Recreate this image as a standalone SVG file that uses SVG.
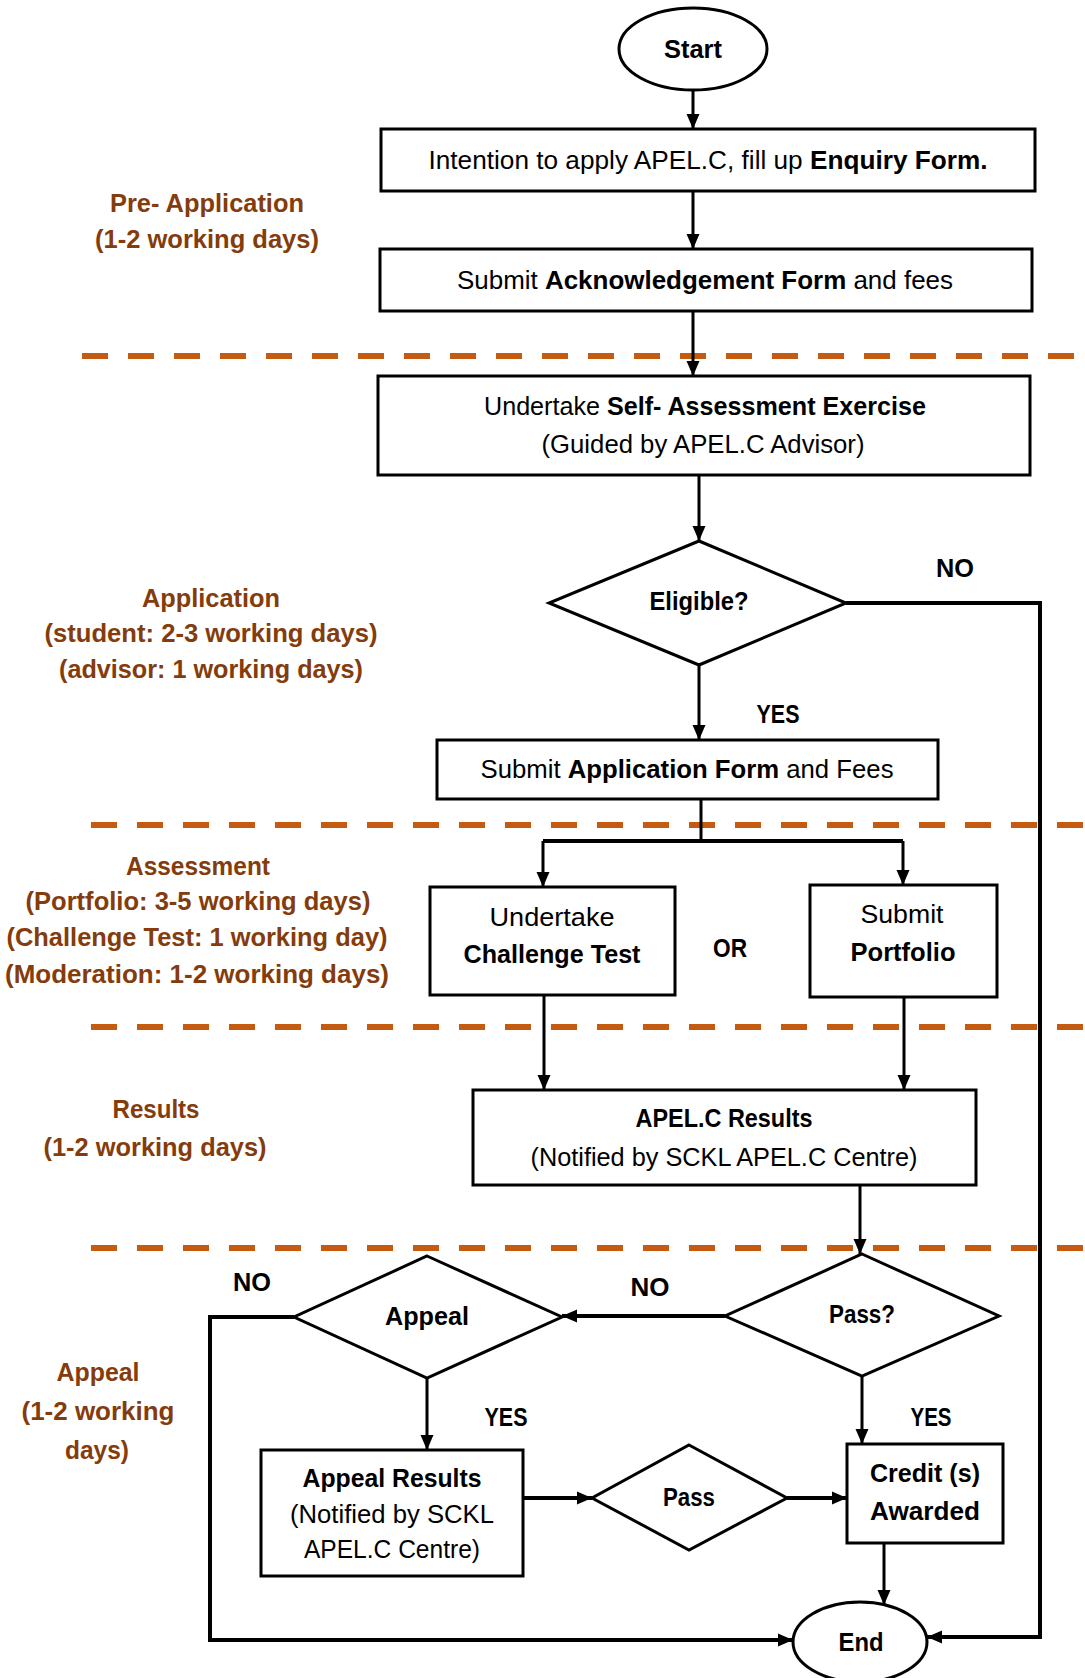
<svg xmlns="http://www.w3.org/2000/svg" width="1085" height="1678" viewBox="0 0 1085 1678">
<style>
.bg{fill:#fff}
.box{fill:#fff;stroke:#000;stroke-width:3}
.t{font-family:"Liberation Sans",Arial,sans-serif;font-size:26px;fill:#000;text-anchor:middle}
.b{font-weight:bold}
.lbl{font-family:"Liberation Sans",Arial,sans-serif;font-size:26px;font-weight:bold;fill:#843C0C;text-anchor:middle}
.dash{stroke:#C55A11;stroke-width:6;stroke-dasharray:26 20;fill:none}
.con{stroke:#000;stroke-width:3;fill:none}
.thick{stroke-width:4}
</style>
<defs>
<marker id="arr" markerWidth="15" markerHeight="14" refX="15" refY="7" orient="auto" markerUnits="userSpaceOnUse">
<path d="M0,0.5 L15,7 L0,13.5 Z" fill="#000"/>
</marker>
</defs>
<rect class="bg" x="0" y="0" width="1085" height="1678"/>

<g id="phase-dividers">
<line class="dash" x1="82" y1="356" x2="1085" y2="356"/>
<line class="dash" x1="91" y1="825" x2="1085" y2="825"/>
<line class="dash" x1="91" y1="1027" x2="1085" y2="1027"/>
<line class="dash" x1="91" y1="1248" x2="1085" y2="1248"/>
</g>

<g id="phase-labels">
<text class="lbl" x="207" y="212" textLength="194" lengthAdjust="spacingAndGlyphs">Pre- Application</text>
<text class="lbl" x="207" y="248" textLength="224" lengthAdjust="spacingAndGlyphs">(1-2 working days)</text>
<text class="lbl" x="211" y="607" textLength="138" lengthAdjust="spacingAndGlyphs">Application</text>
<text class="lbl" x="211" y="642" textLength="333" lengthAdjust="spacingAndGlyphs">(student: 2-3 working days)</text>
<text class="lbl" x="211" y="678" textLength="304" lengthAdjust="spacingAndGlyphs">(advisor: 1 working days)</text>
<text class="lbl" x="198" y="875" textLength="144" lengthAdjust="spacingAndGlyphs">Assessment</text>
<text class="lbl" x="198" y="910" textLength="345" lengthAdjust="spacingAndGlyphs">(Portfolio: 3-5 working days)</text>
<text class="lbl" x="197" y="946" textLength="381" lengthAdjust="spacingAndGlyphs">(Challenge Test: 1 working day)</text>
<text class="lbl" x="197" y="983" textLength="384" lengthAdjust="spacingAndGlyphs">(Moderation: 1-2 working days)</text>
<text class="lbl" x="156" y="1118" textLength="87" lengthAdjust="spacingAndGlyphs">Results</text>
<text class="lbl" x="155" y="1156" textLength="223" lengthAdjust="spacingAndGlyphs">(1-2 working days)</text>
<text class="lbl" x="98" y="1381" textLength="83" lengthAdjust="spacingAndGlyphs">Appeal</text>
<text class="lbl" x="98" y="1420" textLength="153" lengthAdjust="spacingAndGlyphs">(1-2 working</text>
<text class="lbl" x="97" y="1459" textLength="64" lengthAdjust="spacingAndGlyphs">days)</text>
</g>

<g id="connectors">
<line class="con" x1="693" y1="90" x2="693" y2="129" marker-end="url(#arr)"/>
<line class="con" x1="693" y1="191" x2="693" y2="249" marker-end="url(#arr)"/>
<line class="con" x1="693" y1="311" x2="693" y2="376" marker-end="url(#arr)"/>
<line class="con" x1="699" y1="475" x2="699" y2="541" marker-end="url(#arr)"/>
<line class="con" x1="699" y1="665" x2="699" y2="740" marker-end="url(#arr)"/>
<polyline class="con" points="701,799 701,841"/>
<polyline class="con thick" points="543,841 903,841"/>
<line class="con" x1="543" y1="841" x2="543" y2="887" marker-end="url(#arr)"/>
<line class="con" x1="903" y1="841" x2="903" y2="885" marker-end="url(#arr)"/>
<line class="con" x1="544" y1="995" x2="544" y2="1090" marker-end="url(#arr)"/>
<line class="con" x1="904" y1="997" x2="904" y2="1090" marker-end="url(#arr)"/>
<line class="con" x1="860" y1="1185" x2="860" y2="1254" marker-end="url(#arr)"/>
<line class="con thick" x1="725" y1="1316" x2="562" y2="1316" marker-end="url(#arr)"/>
<polyline class="con thick" points="294,1317 210,1317 210,1640 793,1640" marker-end="url(#arr)"/>
<line class="con" x1="427" y1="1378" x2="427" y2="1450" marker-end="url(#arr)"/>
<line class="con thick" x1="523" y1="1498" x2="592" y2="1498" marker-end="url(#arr)"/>
<line class="con thick" x1="787" y1="1498" x2="847" y2="1498" marker-end="url(#arr)"/>
<line class="con" x1="862" y1="1376" x2="862" y2="1444" marker-end="url(#arr)"/>
<line class="con" x1="884" y1="1543" x2="884" y2="1605" marker-end="url(#arr)"/>
<polyline class="con thick" points="846,603 1040,603 1040,1637 927,1637" marker-end="url(#arr)"/>
<text class="t b" x="955" y="577" textLength="38" lengthAdjust="spacingAndGlyphs">NO</text>
<text class="t b" x="778" y="723" textLength="43" lengthAdjust="spacingAndGlyphs">YES</text>
<text class="t b" x="730" y="957" textLength="34" lengthAdjust="spacingAndGlyphs">OR</text>
<text class="t b" x="252" y="1291" textLength="38" lengthAdjust="spacingAndGlyphs">NO</text>
<text class="t b" x="650" y="1296" textLength="39" lengthAdjust="spacingAndGlyphs">NO</text>
<text class="t b" x="506" y="1426" textLength="43" lengthAdjust="spacingAndGlyphs">YES</text>
<text class="t b" x="931" y="1426" textLength="41" lengthAdjust="spacingAndGlyphs">YES</text>
</g>

<g id="start">
<ellipse class="box" cx="693" cy="49" rx="74" ry="41"/>
<text class="t b" x="693" y="58" textLength="58" lengthAdjust="spacingAndGlyphs">Start</text>
</g>
<g id="enquiry">
<rect class="box" x="381" y="129" width="654" height="62"/>
<text class="t" x="708" y="169" textLength="559" lengthAdjust="spacingAndGlyphs">Intention to apply APEL.C, fill up <tspan class="b">Enquiry Form.</tspan></text>
</g>
<g id="acknowledgement">
<rect class="box" x="380" y="249" width="652" height="62"/>
<text class="t" x="705" y="289" textLength="496" lengthAdjust="spacingAndGlyphs">Submit <tspan class="b">Acknowledgement Form</tspan> and fees</text>
</g>
<g id="self-assessment">
<rect class="box" x="378" y="376" width="652" height="99"/>
<text class="t" x="705" y="415" textLength="442" lengthAdjust="spacingAndGlyphs">Undertake <tspan class="b">Self- Assessment Exercise</tspan></text>
<text class="t" x="703" y="453" textLength="323" lengthAdjust="spacingAndGlyphs">(Guided by APEL.C Advisor)</text>
</g>
<g id="eligible">
<polygon class="box" points="699,541 846,603 699,665 549,603"/>
<text class="t b" x="699" y="610" textLength="99" lengthAdjust="spacingAndGlyphs">Eligible?</text>
</g>
<g id="application-form">
<rect class="box" x="437" y="740" width="501" height="59"/>
<text class="t" x="687" y="778" textLength="413" lengthAdjust="spacingAndGlyphs">Submit <tspan class="b">Application Form</tspan> and Fees</text>
</g>
<g id="challenge-test">
<rect class="box" x="430" y="887" width="245" height="108"/>
<text class="t" x="552" y="926" textLength="125" lengthAdjust="spacingAndGlyphs">Undertake</text>
<text class="t b" x="552" y="963" textLength="177" lengthAdjust="spacingAndGlyphs">Challenge Test</text>
</g>
<g id="portfolio">
<rect class="box" x="810" y="885" width="187" height="112"/>
<text class="t" x="902" y="923" textLength="83" lengthAdjust="spacingAndGlyphs">Submit</text>
<text class="t b" x="903" y="961" textLength="105" lengthAdjust="spacingAndGlyphs">Portfolio</text>
</g>
<g id="results">
<rect class="box" x="473" y="1090" width="503" height="95"/>
<text class="t b" x="724" y="1127" textLength="177" lengthAdjust="spacingAndGlyphs">APEL.C Results</text>
<text class="t" x="724" y="1166" textLength="387" lengthAdjust="spacingAndGlyphs">(Notified by SCKL APEL.C Centre)</text>
</g>
<g id="pass-q">
<polygon class="box" points="862,1254 999,1316 862,1376 725,1316"/>
<text class="t b" x="862" y="1323" textLength="66" lengthAdjust="spacingAndGlyphs">Pass?</text>
</g>
<g id="appeal">
<polygon class="box" points="427,1256 562,1317 427,1378 294,1317"/>
<text class="t b" x="427" y="1325" textLength="84" lengthAdjust="spacingAndGlyphs">Appeal</text>
</g>
<g id="appeal-results">
<rect class="box" x="261" y="1450" width="262" height="126"/>
<text class="t b" x="392" y="1487" textLength="179" lengthAdjust="spacingAndGlyphs">Appeal Results</text>
<text class="t" x="392" y="1523" textLength="204" lengthAdjust="spacingAndGlyphs">(Notified by SCKL</text>
<text class="t" x="392" y="1558" textLength="176" lengthAdjust="spacingAndGlyphs">APEL.C Centre)</text>
</g>
<g id="pass">
<polygon class="box" points="689,1445 787,1498 689,1550 592,1498"/>
<text class="t b" x="689" y="1506" textLength="52" lengthAdjust="spacingAndGlyphs">Pass</text>
</g>
<g id="credits">
<rect class="box" x="847" y="1444" width="156" height="99"/>
<text class="t b" x="925" y="1482" textLength="110" lengthAdjust="spacingAndGlyphs">Credit (s)</text>
<text class="t b" x="925" y="1520" textLength="110" lengthAdjust="spacingAndGlyphs">Awarded</text>
</g>
<g id="end">
<ellipse class="box" cx="860" cy="1642" rx="67" ry="40"/>
<text class="t b" x="861" y="1651" textLength="45" lengthAdjust="spacingAndGlyphs">End</text>
</g>
</svg>
